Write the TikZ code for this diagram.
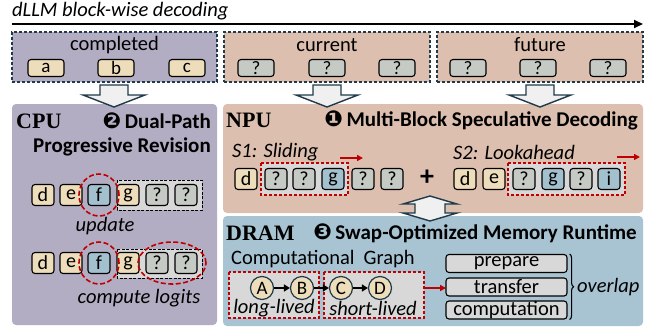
\documentclass[tikz,border=0pt]{standalone}
\usepackage{fontspec}
\setmainfont{Carlito}
\newfontfamily\serifbf{Liberation Serif}
\newfontfamily\dejavu{DejaVu Sans}
\usetikzlibrary{arrows.meta,decorations.pathreplacing,calc}

\definecolor{lav}{HTML}{B2ADC2}
\definecolor{peach}{HTML}{DCBFAE}
\definecolor{dramblue}{HTML}{A8C4D2}
\definecolor{tokbeige}{HTML}{EEDDBA}
\definecolor{tokgrey}{HTML}{C6CAC4}
\definecolor{tokblue}{HTML}{A3C0CE}
\definecolor{lightgrey}{HTML}{D8D8D8}
\definecolor{navy}{HTML}{1F3A4A}
\definecolor{darkred}{HTML}{C00000}

\newcommand{\circnum}[1]{{\dejavu\fontsize{22}{22}\selectfont\char#1}}

\tikzset{
  txt/.style={inner sep=0pt, font=\fontsize{20.5}{20.5}\selectfont},
  itxt/.style={inner sep=0pt, font=\itshape\fontsize{20.5}{20.5}\selectfont},
  head/.style={inner sep=0pt, font=\bfseries\fontsize{21}{21}\selectfont},
  unit/.style={inner sep=0pt, font=\serifbf\bfseries\fontsize{22}{22}\selectfont},
  tok/.style={draw=black, line width=1.1pt, rounded corners=3pt, minimum width=22pt,
    minimum height=21pt, inner sep=0pt, font=\fontsize{20}{20}\selectfont},
  wtok/.style={tok, minimum width=36pt, minimum height=17pt, font=\fontsize{19}{19}\selectfont},
  tb/.style={fill=tokbeige}, tg/.style={fill=tokgrey}, tu/.style={fill=tokblue},
  blockbox/.style={draw=navy, line width=1.2pt, dash pattern=on 3pt off 2pt},
  panel/.style={rounded corners=4pt},
  graybox/.style={fill=lightgrey, draw=black, line width=1pt, dash pattern=on 3pt off 1.5pt},
  redbox/.style={fill=lightgrey, draw=darkred, line width=1.3pt, dash pattern=on 3pt off 2pt},
  redring/.style={draw=darkred, line width=1.6pt, dash pattern=on 5pt off 2.5pt},
  redarrow/.style={draw=darkred, line width=1.5pt, -{Triangle[length=6pt,width=6pt]}},
  blackarrow/.style={draw=black, line width=1.5pt, -{Triangle[length=6pt,width=7pt]}},
  bigarrow/.style={fill=black!6, draw=navy, line width=1.4pt, line join=miter},
  gnode/.style={circle, draw=navy, line width=1.2pt, fill=tokbeige, minimum size=23pt,
    inner sep=0pt, font=\fontsize{19}{19}\selectfont},
  stage/.style={draw=black, line width=1.1pt, rounded corners=3pt, fill=lightgrey,
    minimum width=121pt, minimum height=18pt, inner sep=0pt, font=\fontsize{20.5}{20.5}\selectfont},
  downblk/.pic={\draw[bigarrow] (-14,-11) -- (14,-11) -- (14,-1) -- (31,-1) -- (0,11)
     -- (-31,-1) -- (-14,-1) -- cycle;},
  updownblk/.pic={\draw[bigarrow] (0,-13) -- (27,-5) -- (15,-5) -- (15,4) -- (27,4) -- (0,12)
     -- (-27,4) -- (-15,4) -- (-15,-5) -- (-27,-5) -- cycle;}
}

\begin{document}
\begin{tikzpicture}[x=1pt, y=-1pt]
\useasboundingbox (0,0) rectangle (655,327);

% timeline
\node[itxt, anchor=west] (title) at (12,11) {dLLM block-wise decoding};
\coordinate (tl) at (12,24);
\coordinate (tr) at (643,24);
\draw[line width=1.8pt, -{Triangle[length=9pt,width=8pt]}] (tl) -- (tr);

% the three blocks
\node[blockbox, fill=lav, minimum width=205pt, minimum height=50pt] (bcomp) at (114.5,57) {};
\node[blockbox, fill=peach, minimum width=206pt, minimum height=50pt] (bcur) at (327,57) {};
\node[blockbox, fill=peach, minimum width=206pt, minimum height=50pt] (bfut) at (540,57) {};
\node[txt] (lcomp) at (114.5,45) {completed};
\node[txt] (lcur) at (327,45) {current};
\node[txt] (lfut) at (540,45) {future};
\node[wtok, tb] (ta) at (46,68) {a};
\node[wtok, tb] (tbb) at (116,68) {b};
\node[wtok, tb] (tc) at (187,68) {c};
\node[wtok, tg] (tc1) at (256,68) {?};
\node[wtok, tg] (tc2) at (327,68) {?};
\node[wtok, tg] (tc3) at (397,68) {?};
\node[wtok, tg] (tf1) at (468,68) {?};
\node[wtok, tg] (tf2) at (538,68) {?};
\node[wtok, tg] (tf3) at (608,68) {?};

% panels
\fill[panel, lav] (12,104) rectangle (217,325);
\fill[panel, peach] (223,104) rectangle (643,213);
\fill[panel, dramblue] (223,216) rectangle (643,326);

\pic at (114,96) {downblk};
\pic at (327,96) {downblk};
\pic at (540,96) {downblk};
\pic at (430,209) {updownblk};

% CPU panel
\node[unit, anchor=west] (cpu) at (16,121) {CPU};
\node[head, anchor=east] (cpuh1) at (211,121) {\circnum{"2777}\,Dual-Path};
\node[head, anchor=east] (cpuh2) at (211,147) {Progressive Revision};

\draw[graybox] (117,180) rectangle (202,210);
\node[tok, tb] (ra1) at (43,195) {d};
\node[tok, tb] (ra2) at (71,195) {e};
\node[tok, tu] (ra3) at (99,195) {f};
\node[tok, tb] (ra4) at (128,195) {g};
\node[tok, tg] (ra5) at (157,195) {?};
\node[tok, tg] (ra6) at (186,195) {?};
\draw[redring] (ra3) ellipse (20pt and 21pt);
\node[itxt] (upd) at (105,226) {update};

\draw[graybox] (117,249) rectangle (202,278);
\node[tok, tb] (rb1) at (43,263) {d};
\node[tok, tb] (rb2) at (71,263) {e};
\node[tok, tu] (rb3) at (99,263) {f};
\node[tok, tb] (rb4) at (128,263) {g};
\node[tok, tg] (rb5) at (157,263) {?};
\node[tok, tg] (rb6) at (186,263) {?};
\draw[redring] (rb3) ellipse (20pt and 21pt);
\draw[redring] (172,263) ellipse (34pt and 21pt);
\node[itxt] (logits) at (139,298) {compute logits};

% NPU panel
\node[unit, anchor=west] (npu) at (226,120) {NPU};
\node[head, anchor=east] (npuh) at (638,120) {\circnum{"2776}\,Multi-Block Speculative Decoding};

\node[itxt, anchor=west] (s1) at (232,152) {S1: Sliding};
\coordinate (s1a) at (340,158);
\coordinate (s1b) at (363,158);
\draw[redarrow] (s1a) -- (s1b);
\draw[redbox] (261,163) rectangle (348,195);
\node[tok, tb] (sa1) at (246,179) {d};
\node[tok, tg] (sa2) at (276,179) {?};
\node[tok, tg] (sa3) at (304,179) {?};
\node[tok, tu] (sa4) at (333,179) {g};
\node[tok, tg] (sa5) at (363,179) {?};
\node[tok, tg] (sa6) at (392,179) {?};

\node[inner sep=0pt, font=\bfseries\fontsize{28}{28}\selectfont] (plus) at (427,178) {+};

\node[itxt, anchor=west] (s2) at (453,152) {S2: Lookahead};
\coordinate (s2a) at (617,157);
\coordinate (s2b) at (640,157);
\draw[redarrow] (s2a) -- (s2b);
\draw[redbox] (508,163) rectangle (625,195);
\node[tok, tb] (sb1) at (465,179) {d};
\node[tok, tb] (sb2) at (494,179) {e};
\node[tok, tg] (sb3) at (524,179) {?};
\node[tok, tu] (sb4) at (553,179) {g};
\node[tok, tg] (sb5) at (581,179) {?};
\node[tok, tu] (sb6) at (609,179) {i};

% DRAM panel
\node[unit, anchor=west] (dram) at (226,233) {DRAM};
\node[head, anchor=east] (dramh) at (637,233) {\circnum{"2778}\,Swap-Optimized Memory Runtime};
\node[txt, anchor=west] (cg) at (231,259) {Computational\hspace{9pt}Graph};

\draw[redbox] (229,272) rectangle (319,318);
\draw[redbox] (324,272) rectangle (424,318);
\node[gnode] (gA) at (262,288) {A};
\node[gnode] (gB) at (302,288) {B};
\node[gnode] (gC) at (341,288) {C};
\node[gnode] (gD) at (380,288) {D};
\draw[blackarrow] (gA) -- (gB);
\draw[blackarrow] (gB) -- (gC);
\draw[blackarrow] (gC) -- (gD);
\node[itxt] (long) at (274,308) {long-lived};
\node[itxt] (short) at (373,308) {short-lived};

\coordinate (ga) at (425,288);
\coordinate (gb) at (446,288);
\draw[redarrow] (ga) -- (gb);

\node[stage] (prep) at (506.5,263.5) {prepare};
\node[stage] (trans) at (506.5,287) {transfer};
\node[stage] (comp) at (506.5,310) {computation};
\draw[line width=1.1pt, decorate, decoration={brace, amplitude=4pt}]
  ($(prep.north east)+(2,0)$) -- ($(comp.south east)+(2,0)$);
\node[itxt, anchor=west] (ovl) at (577,287) {overlap};
\end{tikzpicture}
\end{document}
